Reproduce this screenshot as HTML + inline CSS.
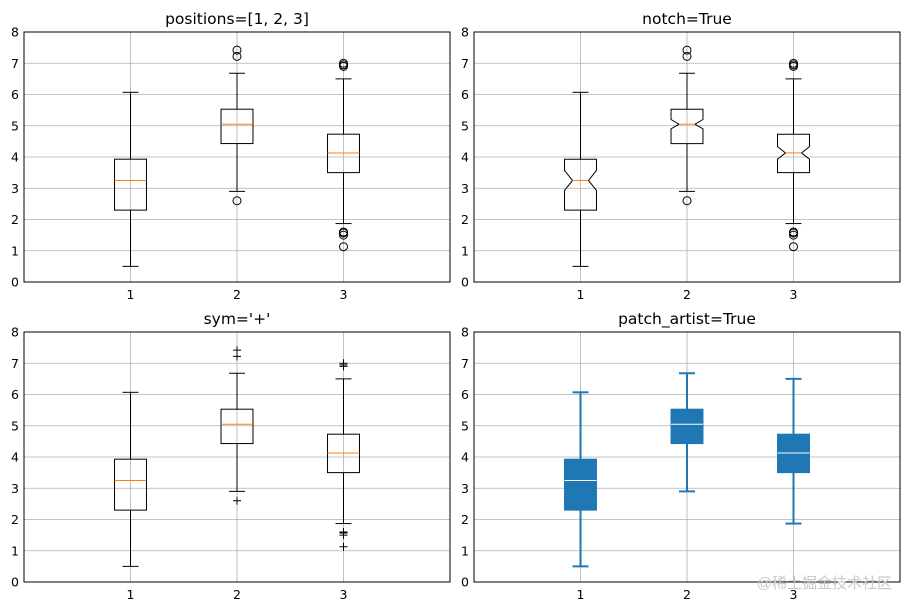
<!DOCTYPE html>
<html><head><meta charset="utf-8"><style>
body{margin:0;background:#fff}
svg{display:block;font-family:"DejaVu Sans","Liberation Sans",sans-serif}
</style></head><body>
<svg id="c" width="911" height="611"></svg>
<script>
const categories=[1,2,3];
const whiskerLow=[0.5,2.9,1.87];
const q1=[2.3,4.43,3.5];
const median=[3.25,5.05,4.13];
const q3=[3.93,5.53,4.73];
const whiskerHigh=[6.07,6.68,6.5];
const notchHalf=[0.32,0.15,0.2];
const fliers=[[],[2.6,7.22,7.42],[1.13,1.5,1.57,1.6,6.9,6.95,7.0]];
const yTicks=[0,1,2,3,4,5,6,7,8];
const titles=["positions=[1, 2, 3]","notch=True","sym='+'","patch_artist=True"];
const svg=document.getElementById('c');
const NS='http://www.w3.org/2000/svg';
function mk(t,a,p){const e=document.createElementNS(NS,t);for(const k in a)e.setAttribute(k,a[k]);p.appendChild(e);return e;}
const panels=[{x0:24,y0:32},{x0:474,y0:32},{x0:24,y0:332},{x0:474,y0:332}];
const W=426,H=250;
panels.forEach((p,pi)=>{
  const g=mk('g',{},svg);
  
  
  const sx=v=>p.x0+v/4*W, sy=v=>p.y0+H-v/8*H;
  yTicks.forEach(t=>{
    const l=mk('line',{x1:p.x0,x2:p.x0+W,y1:sy(t),y2:sy(t),stroke:'#b0b0b0','stroke-width':0.8},g);
    
    const tx=mk('text',{x:p.x0-5,y:sy(t)+4.5,'text-anchor':'end','font-size':12.5,fill:'#000'},g);
    tx.textContent=t;
  });
  categories.forEach(c=>{
    const l=mk('line',{x1:sx(c),x2:sx(c),y1:p.y0,y2:p.y0+H,stroke:'#b0b0b0','stroke-width':0.8},g);
    
    const tx=mk('text',{x:sx(c),y:p.y0+H+17,'text-anchor':'middle','font-size':12.5},g);
    tx.textContent=c;
  });
  const patch=pi===3, col=patch?'#1f77b4':'#000', sw=patch?2:1;
  categories.forEach((c,i)=>{
    const cx=sx(c), hw=0.15/4*W, cw=hw/2;
    const bg=mk('g',{},g);
    [[whiskerLow[i],q1[i]],[q3[i],whiskerHigh[i]]].forEach(([a,b])=>mk('line',{x1:cx,x2:cx,y1:sy(a),y2:sy(b),stroke:col,'stroke-width':sw},bg));
    [whiskerLow[i],whiskerHigh[i]].forEach(v=>mk('line',{x1:cx-cw,x2:cx+cw,y1:sy(v),y2:sy(v),stroke:col,'stroke-width':sw},bg));
    let mx1=cx-hw,mx2=cx+hw;
    if(pi===1){
      const n=hw/2,a=median[i]-notchHalf[i],b=median[i]+notchHalf[i];
      const pts=[[cx-hw,sy(q1[i])],[cx+hw,sy(q1[i])],[cx+hw,sy(a)],[cx+n,sy(median[i])],[cx+hw,sy(b)],[cx+hw,sy(q3[i])],[cx-hw,sy(q3[i])],[cx-hw,sy(b)],[cx-n,sy(median[i])],[cx-hw,sy(a)]];
      mk('polygon',{points:pts.map(q=>q.join(',')).join(' '),fill:'none',stroke:'#000'},bg);
      mx1=cx-n;mx2=cx+n;
    } else {
      mk('rect',{x:cx-hw,y:sy(q3[i]),width:2*hw,height:sy(q1[i])-sy(q3[i]),fill:patch?'#1f77b4':'none',stroke:col,'stroke-width':1},bg);
    }
    mk('line',{x1:mx1,x2:mx2,y1:sy(median[i]),y2:sy(median[i]),stroke:patch?'#fff':'#ff7f0e','stroke-width':1},bg);
    if(!patch) fliers[i].forEach(v=>{
      if(pi===2){mk('path',{d:`M${cx-4},${sy(v)}h8M${cx},${sy(v)-4}v8`,stroke:'#000','stroke-width':1},bg);}
      else mk('circle',{cx:cx,cy:sy(v),r:4,fill:'none',stroke:'#000'},bg);
    });
  });
  const fr=mk('rect',{x:p.x0,y:p.y0,width:W,height:H,fill:'none',stroke:'#000','stroke-width':1},g);
  
  const t=mk('text',{x:p.x0+W/2,y:p.y0-8,'text-anchor':'middle','font-size':15.5},g);
  t.textContent=titles[pi];
});
const wm=mk('text',{x:892,y:588,'text-anchor':'end','font-size':15,fill:'#c8c8c8','font-family':'"Liberation Sans","Noto Sans CJK SC",sans-serif'},svg);
wm.textContent='@稀土掘金技术社区';


</script>
</body></html>
